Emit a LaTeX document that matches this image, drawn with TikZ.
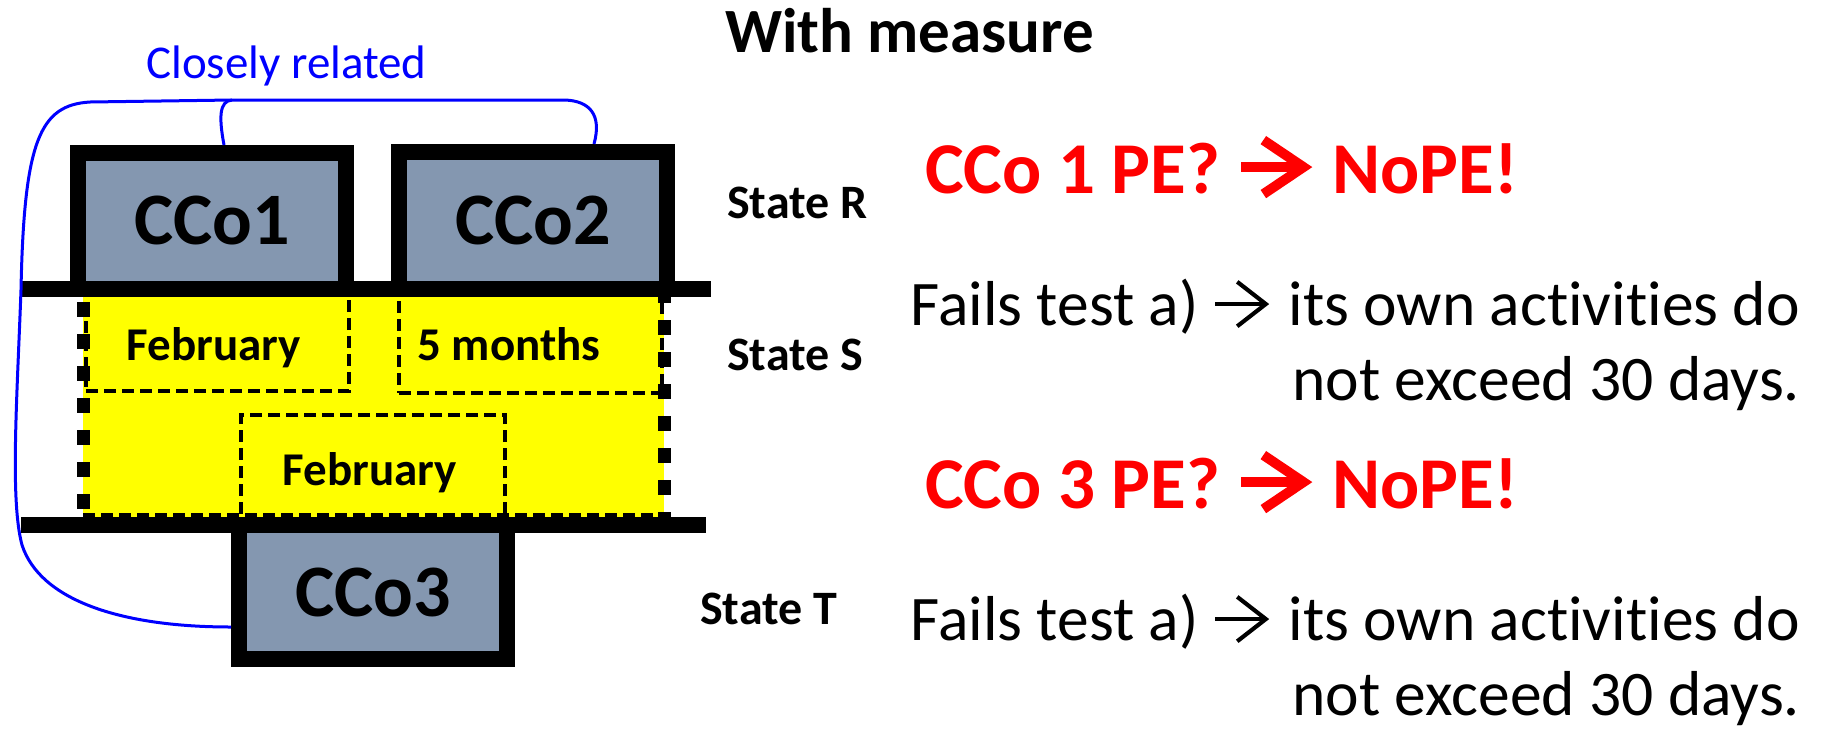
\documentclass[tikz,border=0pt]{standalone}
\usepackage{fontspec}
\setmainfont{Carlito}[Ligatures=NoCommon]
\definecolor{boxfill}{RGB}{132,151,176}
\definecolor{pered}{RGB}{255,0,0}
\definecolor{peblue}{RGB}{0,0,255}
\definecolor{peyellow}{RGB}{255,255,0}
% chevron arrow drawn in the current font size:
% #1 colour, #2 stroke (em), #3 length (em), #4 head depth (em), #5 head half height (em), #6 shaft height (em)
\newcommand{\chevarrow}[6]{\tikz[baseline=0pt, x=1em, y=1em]{%
  \draw[draw=#1, line width=#2em, line cap=butt] (0,#6) -- (#3-0.02,#6);
  \draw[draw=#1, line width=#2em, line cap=butt, line join=miter] (#3-#4,#6+#5) -- (#3,#6) -- (#3-#4,#6-#5);}\hspace{0.1em}}
\begin{document}
\begin{tikzpicture}[x=1pt,y=-1pt,
  ccobox/.style={draw=black, line width=16pt, fill=boxfill, rectangle, inner sep=0pt,
    font=\fontsize{74}{80}\selectfont\bfseries},
  monthbox/.style={draw=black, line width=4pt, dash pattern=on 12pt off 6pt, rectangle, inner sep=0pt},
  thinedge/.style={draw=black, line width=4pt, dash pattern=on 12pt off 6pt},
  thickdot/.style={draw=black, line width=13pt, dash pattern=on 15pt off 17pt},
  monthtext/.style={font=\fontsize{47}{50}\selectfont\bfseries, anchor=base, inner sep=0pt},
  statetext/.style={font=\fontsize{48}{52}\selectfont\bfseries, anchor=base west, inner sep=0pt},
  redtext/.style={text=pered, font=\fontsize{73}{80}\selectfont\bfseries, anchor=base west, inner sep=0pt},
  bodytext/.style={font=\fontsize{63.5}{70}\selectfont, anchor=base east, inner sep=0pt},
  rail/.style={line width=16pt},
  relation/.style={draw=peblue, line width=3pt},
]
\useasboundingbox (0,0) rectangle (1844,729);

% yellow period area
\fill[peyellow] (83,297) rectangle (664,517);
\draw[thickdot] (83,302) -- (83,517);
\draw[thickdot] (664,288) -- (664,517);
\draw[thinedge] (83,515) -- (664,515);

% month boxes
\node[monthbox, minimum width=263pt, minimum height=96pt] (feb1box) at (217.5,343) {};
\node[monthbox, minimum width=263pt, minimum height=98pt] (fivebox) at (530.5,344) {};
\node[monthbox, minimum width=264pt, minimum height=105pt] (feb2box) at (373,467.5) {};
\node[monthtext] (feb1) at (214,360) {February};
\node[monthtext] (fivem) at (509,360) {5 months};
\node[monthtext] (feb2) at (370,485) {February};

% state borders
\draw[rail] (21,289) -- (711,289);
\draw[rail] (21,524.5) -- (706,524.5);

% CCo boxes
\node[ccobox, minimum width=268pt, minimum height=136pt] (c1box) at (212,221) {CCo1};
\node[ccobox, minimum width=268pt, minimum height=137pt] (c2box) at (533,220.5) {CCo2};
\node[ccobox, minimum width=268pt, minimum height=134pt] (c3box) at (373,592) {CCo3};

% closely related connector
\coordinate (brk) at (232,100);
\draw[relation] ([xshift=12pt]c1box.north) .. controls (219,118) and (219,101) .. (brk)
  -- (565,100) .. controls (590,101) and (602,115) .. ([xshift=61pt]c2box.north);
\draw[relation] (brk) -- (90,102) .. controls (40,105) and (24,140) .. (21,290)
  .. controls (17,400) and (10,500) .. (22,545)
  .. controls (40,600) and (120,627) .. ([yshift=-35pt]c3box.west);
\node[anchor=base west, inner sep=0pt, text=peblue, font=\fontsize{47}{50}\selectfont] (rel) at (146,78) {Closely related};

% headings and state labels
\node[anchor=base west, inner sep=0pt, font=\fontsize{63}{70}\selectfont\bfseries] (title) at (725,52) {With measure};
\node[statetext] (sR) at (727,218) {State R};
\node[statetext] (sS) at (727,370) {State S};
\node[statetext] (sT) at (700,624) {State T};

% conclusions
\node[redtext] (q1) at (925,193) {CCo 1 PE? \chevarrow{pered}{0.135}{0.85}{0.55}{0.37}{0.355} NoPE!};
\node[redtext] (q3) at (925,508) {CCo 3 PE? \chevarrow{pered}{0.135}{0.85}{0.55}{0.37}{0.355} NoPE!};
\node[bodytext] (a1) at (1800,325) {Fails test a) \chevarrow{black}{0.065}{0.8}{0.45}{0.35}{0.33} its own activities do};
\node[bodytext] (a1b) at (1800,400) {not exceed 30 days.};
\node[bodytext] (a3) at (1800,640) {Fails test a) \chevarrow{black}{0.065}{0.8}{0.45}{0.35}{0.33} its own activities do};
\node[bodytext] (a3b) at (1800,715) {not exceed 30 days.};
\end{tikzpicture}
\end{document}
